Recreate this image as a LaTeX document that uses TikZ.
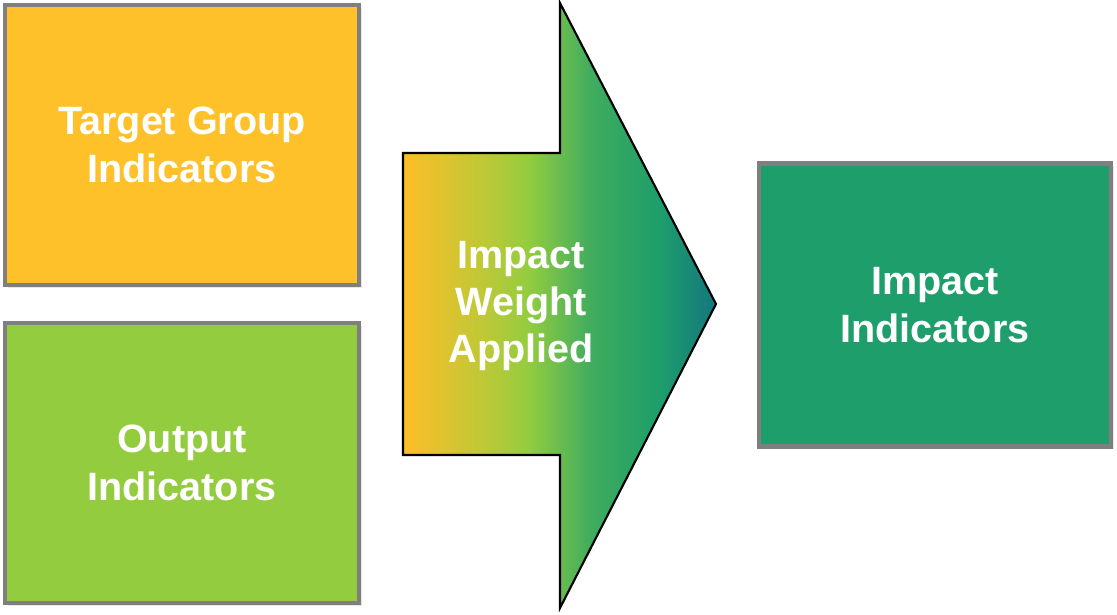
\documentclass[tikz,border=0pt]{standalone}
\usepackage{fontspec}
\setmainfont{Liberation Sans}
\usepackage{tikz}
\usetikzlibrary{shadows}

\definecolor{tgyellow}{HTML}{FEC12A}
\definecolor{outgreen}{HTML}{93CD3F}
\definecolor{impgreen}{HTML}{1D9E6B}
\definecolor{tipteal}{HTML}{15767F}
\definecolor{boxgray}{HTML}{7F7F7F}

% left to right: yellow -> lime -> green -> teal
\pgfdeclarehorizontalshading{weightshade}{100bp}{
  color(0bp)=(tgyellow!95!orange);
  color(25bp)=(tgyellow!95!orange);
  color(38bp)=(outgreen!60!tgyellow);
  color(45bp)=(outgreen);
  color(55bp)=(impgreen!70!outgreen);
  color(66bp)=(impgreen);
  color(75bp)=(tipteal);
  color(100bp)=(tipteal)}

\tikzset{
  indbox/.style={draw=boxgray, line width=2.8pt, minimum width=7.08cm,
    minimum height=5.6cm, align=center, text=white,
    drop shadow={opacity=0.2, shadow xshift=1.5pt, shadow yshift=-1.5pt}},
  bigtext/.style={font=\bfseries\fontsize{22.5}{27}\selectfont}
}

\begin{document}
\begin{tikzpicture}[x=0.02cm, y=-0.02cm]
	\useasboundingbox (0,0) rectangle (1117,615);
	% input indicators
	\node[indbox, bigtext, fill=tgyellow] (target) at (182,145) {Target Group\\Indicators};
	\node[indbox, bigtext, fill=outgreen] (output) at (182,463) {Output\\Indicators};
	% the weighting step
	\shade[shading=weightshade, draw=black, line width=1.2pt, line join=miter]
		(403,153) -- (560,153) -- (560,3) -- (716,304) -- (560,608)
		-- (560,455) -- (403,455) -- cycle;
	\node[bigtext, text=white, align=center] (weight) at (521,306) {Impact\\Weight\\Applied};
	% result
	\node[indbox, bigtext, fill=impgreen, minimum width=7.04cm, minimum height=5.66cm] (impact) at (935,305) {Impact\\Indicators};
\end{tikzpicture}
\end{document}
